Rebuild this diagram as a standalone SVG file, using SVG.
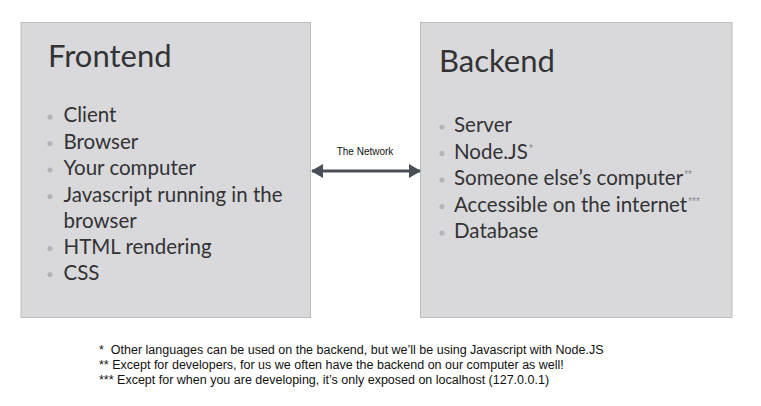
<svg xmlns="http://www.w3.org/2000/svg" width="761" height="406" viewBox="0 0 761 406">
<style>
.box{fill:#d9d9db;stroke:#bdbdbf;stroke-width:1}
.title{font-family:Lato,"Open Sans",sans-serif;font-size:31px;fill:#333335}
.item{font-family:Lato,"Open Sans",sans-serif;font-size:20.5px;fill:#333335}
.bul{fill:#b4b4b6}
.sup{font-family:"Liberation Sans",sans-serif;font-size:10px;fill:#8a8a8c}
.net{font-family:"Liberation Sans",Arial,sans-serif;font-size:10px;fill:#111}
.foot{font-family:"Liberation Sans",Arial,sans-serif;font-size:12.5px;fill:#111;white-space:pre}
.conn{stroke:#4a4f56;stroke-width:3;fill:none}
</style>
<defs>
<marker id="ah" viewBox="0 0 12 14" refX="11" refY="7" markerWidth="12" markerHeight="14" markerUnits="userSpaceOnUse" orient="auto-start-reverse">
<path d="M0,0 L12,7 L0,14 Z" fill="#4a4f56"/>
</marker>
</defs>
<rect width="761" height="406" fill="#fff"/>
<g id="frontend">
<rect class="box" x="21" y="22.5" width="289.5" height="295"/>
<text class="title" x="48" y="66.5">Frontend</text>
<g class="bul">
<circle cx="50" cy="117" r="2.6"/><circle cx="50" cy="143.5" r="2.6"/><circle cx="50" cy="170" r="2.6"/><circle cx="50" cy="196.5" r="2.6"/><circle cx="50" cy="248.5" r="2.6"/><circle cx="50" cy="274.5" r="2.6"/>
</g>
<text class="item" x="63.5" y="122">Client</text>
<text class="item" x="63.5" y="148.5">Browser</text>
<text class="item" x="63.5" y="175">Your computer</text>
<text class="item" x="63.5" y="201.5">Javascript running in the</text>
<text class="item" x="63.5" y="227.5">browser</text>
<text class="item" x="63.5" y="253.5">HTML rendering</text>
<text class="item" x="63.5" y="279.5">CSS</text>
</g>
<g id="backend">
<rect class="box" x="420.5" y="22.5" width="311.5" height="295"/>
<text class="title" x="439" y="71.5">Backend</text>
<g class="bul">
<circle cx="442" cy="127" r="2.6"/><circle cx="442" cy="153.5" r="2.6"/><circle cx="442" cy="180" r="2.6"/><circle cx="442" cy="206.5" r="2.6"/><circle cx="442" cy="233" r="2.6"/>
</g>
<text class="item" x="454" y="132">Server</text>
<text class="item" x="454" y="158.5">Node.JS<tspan class="sup" dx="1" dy="-7">*</tspan></text>
<text class="item" x="454" y="185">Someone else’s computer<tspan class="sup" dx="1" dy="-7">**</tspan></text>
<text class="item" x="454" y="211.5">Accessible on the internet<tspan class="sup" dx="1" dy="-7">***</tspan></text>
<text class="item" x="454" y="238">Database</text>
</g>
<g id="connectors">
<line class="conn" x1="312" y1="171" x2="420" y2="171" marker-start="url(#ah)" marker-end="url(#ah)"/>
<text class="net" x="365" y="155" text-anchor="middle">The Network</text>
</g>
<g id="footnotes">
<text class="foot" x="99" y="354" xml:space="preserve">*  Other languages can be used on the backend, but we’ll be using Javascript with Node.JS</text>
<text class="foot" x="99" y="369">** Except for developers, for us we often have the backend on our computer as well!</text>
<text class="foot" x="99" y="384">*** Except for when you are developing, it’s only exposed on localhost (127.0.0.1)</text>
</g>
</svg>
